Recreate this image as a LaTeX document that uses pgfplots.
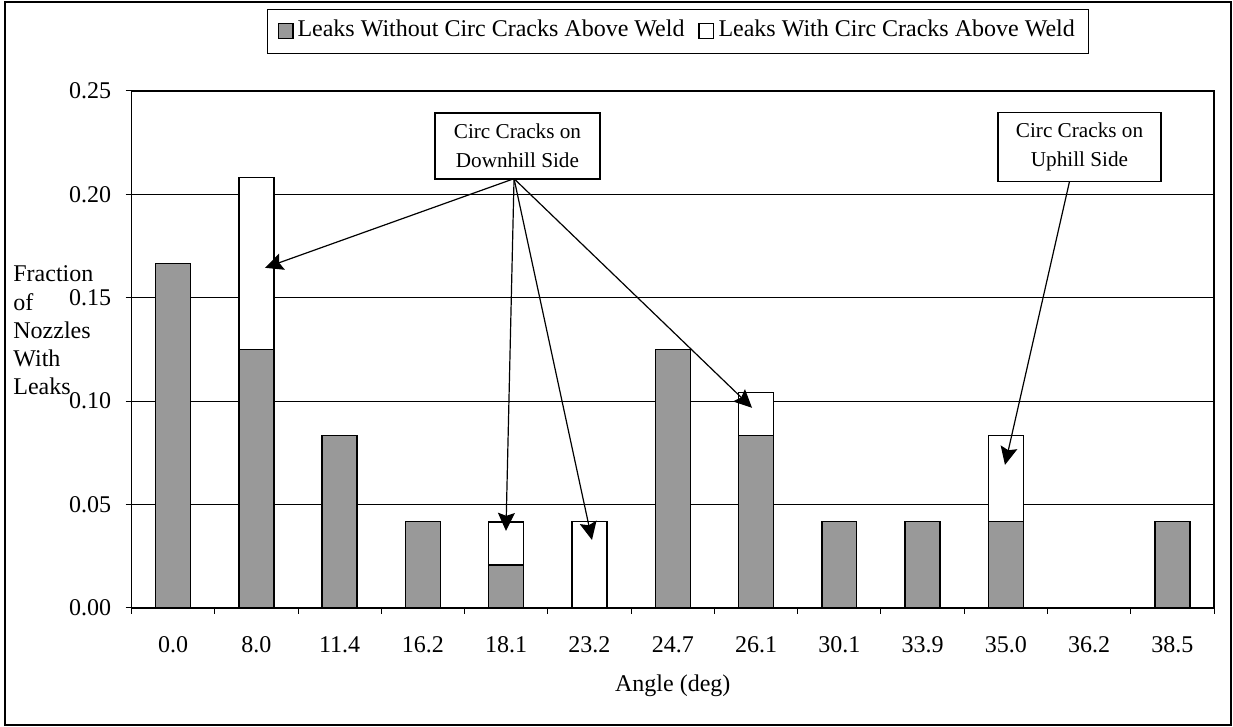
\documentclass[border=0pt]{standalone}
\usepackage{pgfplots}
\pgfplotsset{compat=1.18}
\usepackage{pgfplotstable}
\usepackage{fontspec}
\setmainfont{Liberation Serif}
\usetikzlibrary{arrows.meta}
\definecolor{bargray}{RGB}{153,153,153}

\pgfplotstableread{
x gray white
0 0.1667 0
1 0.125 0.0833
2 0.0833 0
3 0.0417 0
4 0.0208 0.0208
5 0 0.0417
6 0.125 0
7 0.0833 0.0208
8 0.0417 0
9 0.0417 0
10 0.0417 0.0417
11 0 0
12 0.0417 0
}\datatable

\begin{document}
\begin{tikzpicture}
\useasboundingbox (0pt,0pt) rectangle (616.5pt,363.5pt);
\draw[line width=1pt] (2.5pt,1pt) rectangle (615.5pt,362.5pt);
\begin{axis}[
  at={(65.75pt,59.5pt)}, anchor=south west,
  scale only axis, width=541.25pt, height=258.5pt,
  ybar stacked, bar width=0.42,
  xmin=-0.5, xmax=12.5, ymin=0, ymax=0.25,
  xtick={-0.5,0.5,1.5,2.5,3.5,4.5,5.5,6.5,7.5,8.5,9.5,10.5,11.5,12.5},
  xticklabels={0.0,8.0,11.4,16.2,18.1,23.2,24.7,26.1,30.1,33.9,35.0,36.2,38.5,{}},
  ytick={0,0.05,0.1,0.15,0.2,0.25},
  tick align=outside, xtick pos=bottom, ytick pos=left,
  major tick length=3pt,
  tick style={black, line width=0.5pt},
  yticklabel={\pgfmathprintnumber[fixed,fixed zerofill,precision=2,assume math mode=true]{\tick}},
  yticklabel style={anchor=east, inner sep=0pt, xshift=-7pt},
  xticklabel style={anchor=north, inner sep=0pt, yshift=-11pt, xshift=20.82pt},
  tick label style={font=\fontsize{12}{14}\selectfont},
  ymajorgrids, grid style={black, line width=0.5pt},
  axis line style={black, line width=0.75pt},
  clip=false,
  legend columns=2,
  legend style={at={(0.505,1.116)}, anchor=center, draw=black, line width=0.5pt,
    font=\fontsize{12}{14}\selectfont,
    inner xsep=5pt, inner ysep=3.75pt,
    nodes={inner sep=2pt, text height=8pt, text depth=2.5pt},
    column sep=0pt,
    /tikz/every even column/.append style={column sep=5pt}},
  legend cell align=left,
]
\addplot[fill=bargray, draw=black, line width=0.7pt,
  legend image code/.code={\draw[fill=bargray, draw=black, line width=0.6pt] (0pt,-3.6pt) rectangle (7.4pt,3.6pt);}]
  table[x=x, y=gray] {\datatable};
\addlegendentry{Leaks Without Circ Cracks Above Weld}
\addplot[fill=white, draw=black, line width=0.7pt,
  legend image code/.code={\draw[fill=white, draw=black, line width=0.6pt] (0pt,-3.6pt) rectangle (7.4pt,3.6pt);}]
  table[x=x, y=white] {\datatable};
\addlegendentry{Leaks With Circ Cracks Above Weld}

\coordinate (s1) at (axis cs:4.094,0.2076);
\coordinate (t1) at (axis cs:1.103,0.1645);
\coordinate (t2) at (axis cs:3.997,0.0373);
\coordinate (t3) at (axis cs:5.030,0.0329);
\coordinate (t4) at (axis cs:6.952,0.0968);
\coordinate (s2) at (axis cs:10.764,0.2061);
\coordinate (t5) at (axis cs:9.99,0.0692);
\coordinate (b1) at (axis cs:4.135,0.2235);
\coordinate (b2) at (axis cs:10.885,0.2228);
\end{axis}
\begin{scope}[line width=0.6pt, -{Stealth[length=9pt,width=8.5pt,inset=1.5pt]}]
\draw (s1) -- (t1);
\draw (s1) -- (t2);
\draw (s1) -- (t3);
\draw (s1) -- (t4);
\draw (s2) -- (t5);
\end{scope}
\node[draw=black, fill=white, line width=0.75pt, minimum width=82.5pt, minimum height=33pt,
  align=center, inner sep=0pt, font=\fontsize{10.6}{14.5}\selectfont]
  at (b1) {Circ Cracks on\\Downhill Side};
\node[draw=black, fill=white, line width=0.75pt, minimum width=81.5pt, minimum height=34.5pt,
  align=center, inner sep=0pt, font=\fontsize{10.6}{14.5}\selectfont]
  at (b2) {Circ Cracks on\\Uphill Side};
\begin{scope}[font=\fontsize{12}{14}\selectfont]
\node[anchor=base west, inner sep=0pt] at (6.5pt,222.5pt) {Fraction};
\node[anchor=base west, inner sep=0pt] at (6.5pt,208.4pt) {of};
\node[anchor=base west, inner sep=0pt] at (6.5pt,194.25pt) {Nozzles};
\node[anchor=base west, inner sep=0pt] at (6.5pt,180.1pt) {With};
\node[anchor=base west, inner sep=0pt] at (6.5pt,166pt) {Leaks};
\node[anchor=base, inner sep=0pt] at (336.4pt,17.5pt) {Angle (deg)};
\end{scope}
\end{tikzpicture}
\end{document}
